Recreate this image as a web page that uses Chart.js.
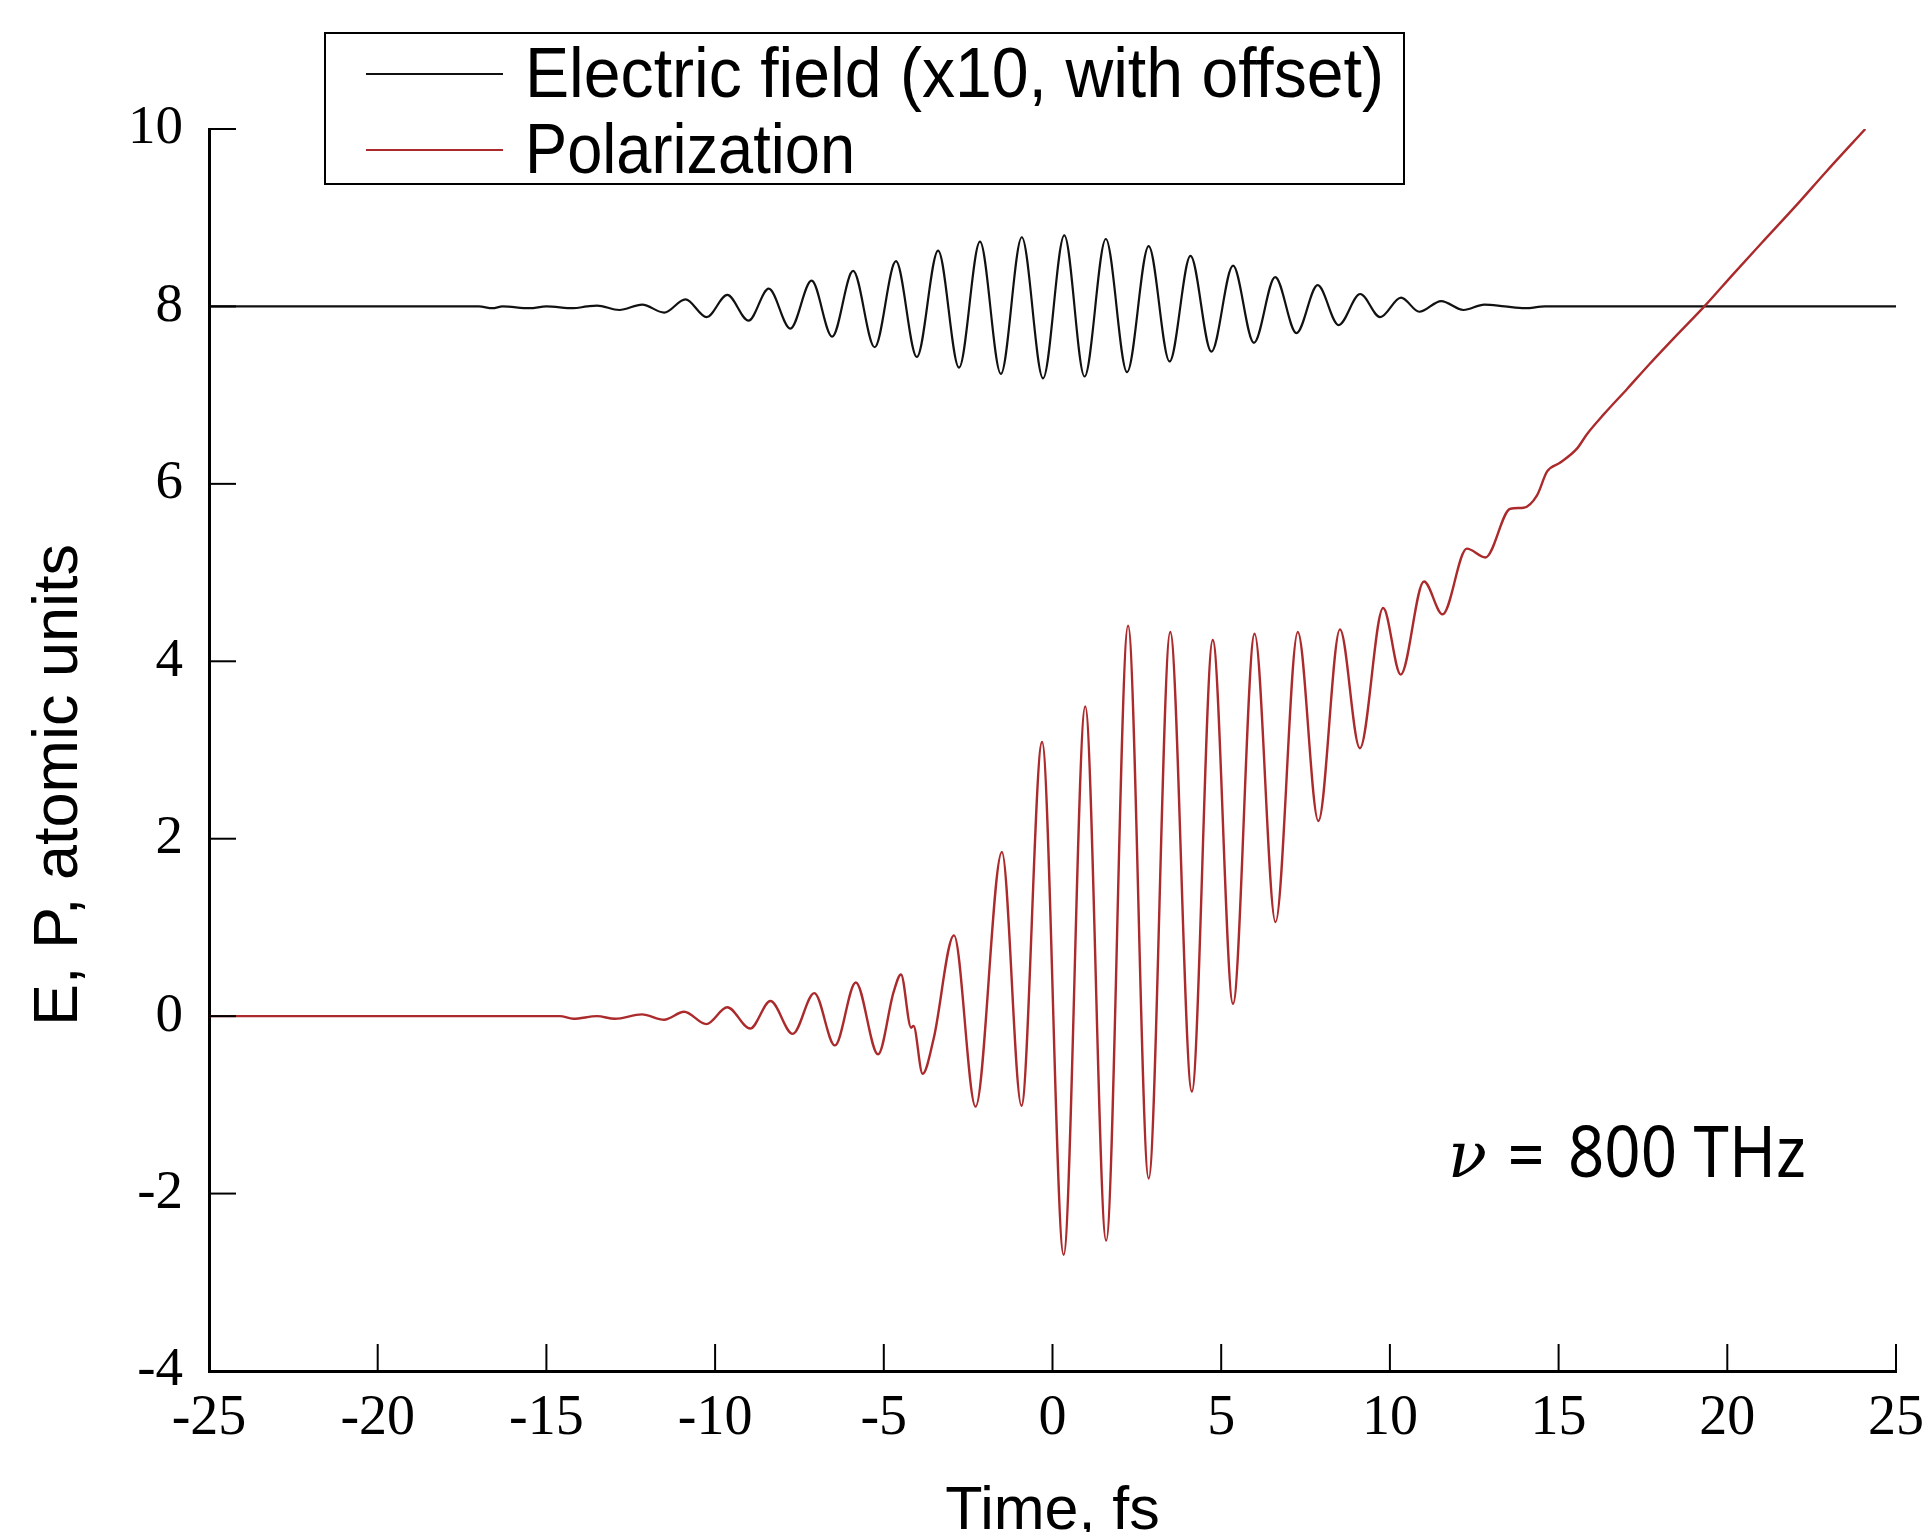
<!DOCTYPE html>
<html>
<head>
<meta charset="utf-8">
<script src="https://cdn.jsdelivr.net/npm/chart.js@4.4.1/dist/chart.umd.min.js"></script>
<style>
  body { margin: 0; background: #fff; }
  canvas { display: block; }
</style>
</head>
<body>
<canvas id="chart" width="1924" height="1532"></canvas>
<script>
// electric field, x10 and shifted up by 8 (peaks and troughs)
const fieldTime = [-25, -17.0, -16.6, -16.3, -15.5, -15.0, -14.2, -13.8, -13.5,
    -12.84, -12.16, -11.51, -10.88, -10.25, -9.64, -9.01, -8.41, -7.77, -7.14,
    -6.53, -5.91, -5.27, -4.64, -4.02, -3.39, -2.77, -2.15, -1.53, -0.91,
    -0.28, 0.35, 0.95, 1.58, 2.21, 2.85, 3.47, 4.09, 4.71, 5.35,
    5.97, 6.60, 7.23, 7.86, 8.48, 9.12, 9.71, 10.33, 10.87, 11.52,
    12.18, 12.80, 13.4, 14.0, 14.6, 25];
const fieldValue = [8.00, 8.00, 7.98, 8.00, 7.98, 8.00, 7.98, 8.00, 8.01,
    7.96, 8.02, 7.93, 8.08, 7.88, 8.13, 7.84, 8.20, 7.75, 8.29,
    7.66, 8.40, 7.54, 8.51, 7.43, 8.63, 7.31, 8.73, 7.24, 8.78,
    7.19, 8.80, 7.21, 8.76, 7.26, 8.68, 7.38, 8.57, 7.49, 8.46,
    7.59, 8.33, 7.70, 8.24, 7.79, 8.14, 7.88, 8.10, 7.94, 8.06,
    7.96, 8.02, 8.00, 7.98, 8.00, 8.00];

// polarization
const polTime = [-25, -14.6, -14.2, -13.5, -12.97, -12.17, -11.51, -10.92, -10.26, -9.64,
    -8.96, -8.36, -7.70, -7.06, -6.45, -5.83, -5.17, -4.71, -4.49, -4.19,
    -4.12, -3.85, -3.52, -2.92, -2.28, -1.50, -0.92, -0.31, 0.33, 0.97,
    1.59, 2.24, 2.85, 3.49, 4.13, 4.75, 5.35, 5.99, 6.61, 7.27,
    7.88, 8.52, 9.11, 9.80, 10.32, 11.01, 11.56, 12.28, 12.83, 13.57,
    13.96, 14.36, 14.66, 15.05, 15.55, 15.84, 16.33, 17.03, 17.67, 18.41,
    19.32, 20.19, 21.03, 22.07, 22.91, 24.09];
const polValue = [0, 0, -0.03, 0, -0.03, 0.02, -0.04, 0.05, -0.09, 0.10,
    -0.14, 0.17, -0.20, 0.26, -0.33, 0.38, -0.43, 0.27, 0.47, -0.13,
    -0.11, -0.65, -0.25, 0.91, -1.02, 1.85, -1.01, 3.09, -2.69, 3.49,
    -2.53, 4.40, -1.83, 4.33, -0.85, 4.24, 0.14, 4.31, 1.06, 4.33,
    2.20, 4.36, 3.02, 4.60, 3.85, 4.90, 4.53, 5.27, 5.17, 5.72,
    5.73, 5.87, 6.14, 6.24, 6.40, 6.56, 6.78, 7.07, 7.34, 7.64,
    8.00, 8.37, 8.72, 9.15, 9.51, 10.0];

const seriesNames = ['Electric field (x10, with offset)', 'Polarization'];
const seriesColors = ['#111111', '#ab2a2c'];
const xRange = [-25, 25];
const xStep = 5;
const yRange = [-4, 10];
const yStep = 2;
const xTitle = 'Time, fs';
const yTitle = 'E, P, atomic units    ';
const noteSymbol = 'ν';
const noteText = '800 THz';

function toPoints(xs, ys) {
    return xs.map((x, i) => ({ x: x, y: ys[i] }));
}

// draw text squeezed/stretched to a given width
function fitText(ctx, text, x, y, width) {
    const w = ctx.measureText(text).width;
    ctx.save();
    ctx.translate(x, y);
    ctx.scale(width / w, 1);
    ctx.fillText(text, 0, 0);
    ctx.restore();
}

// ticks point inward, plus the boxed legend and the frequency note
const decorations = {
    id: 'decorations',
    afterDraw(chart) {
        const ctx = chart.ctx;
        const xs = chart.scales.x;
        const ys = chart.scales.y;
        const area = chart.chartArea;
        ctx.save();
        ctx.strokeStyle = '#000';
        ctx.lineWidth = 2;
        for (let t of xs.ticks) {
            const px = xs.getPixelForValue(t.value);
            ctx.beginPath();
            ctx.moveTo(px, area.bottom);
            ctx.lineTo(px, area.bottom - 27);
            ctx.stroke();
        }
        for (let t of ys.ticks) {
            const py = ys.getPixelForValue(t.value);
            ctx.beginPath();
            ctx.moveTo(area.left, py);
            ctx.lineTo(area.left + 27, py);
            ctx.stroke();
        }

        // legend
        ctx.fillStyle = '#fff';
        ctx.fillRect(325, 33, 1079, 151);
        ctx.strokeStyle = '#000';
        ctx.lineWidth = 2;
        ctx.strokeRect(325, 33, 1079, 151);
        const rows = [74, 150];
        const baselines = [97, 173];
        const widths = [859, 330];
        for (let i = 0; i < seriesNames.length; i++) {
            ctx.strokeStyle = seriesColors[i];
            ctx.lineWidth = 2;
            ctx.beginPath();
            ctx.moveTo(366, rows[i]);
            ctx.lineTo(503, rows[i]);
            ctx.stroke();
            ctx.fillStyle = '#000';
            ctx.font = '71px "Liberation Sans"';
            ctx.textBaseline = 'alphabetic';
            ctx.textAlign = 'left';
            fitText(ctx, seriesNames[i], 525, baselines[i], widths[i]);
        }

        // frequency note
        const nx = xs.getPixelForValue(11.72);
        const ny = ys.getPixelForValue(-1.81);
        ctx.fillStyle = '#000';
        ctx.textBaseline = 'alphabetic';
        ctx.textAlign = 'left';
        ctx.font = 'italic 64px "DejaVu Serif"';
        ctx.fillText(noteSymbol, nx, ny);
        ctx.font = '64px "DejaVu Serif"';
        fitText(ctx, '=', nx + 58, ny - 2, 40);
        ctx.font = '72px "Noto Sans"';
        fitText(ctx, noteText, nx + 120, ny, 238);
        ctx.restore();
    }
};

Chart.defaults.font.family = '"Liberation Serif"';
Chart.defaults.color = '#000';

new Chart(document.getElementById('chart'), {
    type: 'line',
    data: {
        datasets: [
            {
                label: seriesNames[0],
                data: toPoints(fieldTime, fieldValue),
                borderColor: seriesColors[0],
                borderWidth: 2.2,
                pointRadius: 0,
                cubicInterpolationMode: 'monotone',
                fill: false,
                order: 1
            },
            {
                label: seriesNames[1],
                data: toPoints(polTime, polValue),
                borderColor: seriesColors[1],
                borderWidth: 2.4,
                pointRadius: 0,
                cubicInterpolationMode: 'monotone',
                fill: false,
                order: 0
            }
        ]
    },
    options: {
        responsive: false,
        animation: false,
        devicePixelRatio: 1,
        layout: { padding: { left: 0, top: 129, right: 28, bottom: 0 } },
        plugins: {
            legend: { display: false },
            tooltip: { enabled: false }
        },
        scales: {
            x: {
                type: 'linear',
                min: xRange[0],
                max: xRange[1],
                afterFit: function (scale) {
                    scale.height = 161;
                    scale.paddingLeft = 0;
                    scale.paddingRight = 0;
                },
                ticks: {
                    stepSize: xStep,
                    maxRotation: 0,
                    autoSkip: false,
                    padding: 15,
                    font: { size: 56 }
                },
                grid: { display: false, drawTicks: false },
                border: { display: true, color: '#000', width: 3 },
                title: {
                    display: true,
                    text: xTitle,
                    padding: 0,
                    font: { family: '"Liberation Sans"', size: 61, lineHeight: 0.66 }
                }
            },
            y: {
                min: yRange[0],
                max: yRange[1],
                afterFit: function (scale) { scale.width = 209; },
                ticks: {
                    stepSize: yStep,
                    padding: 26,
                    font: { size: 55 }
                },
                grid: { display: false, drawTicks: false },
                border: { display: true, color: '#000', width: 3 },
                title: {
                    display: true,
                    text: yTitle,
                    padding: { top: 28, bottom: 0 },
                    font: { family: '"Liberation Sans"', size: 63, lineHeight: 1 }
                }
            }
        }
    },
    plugins: [decorations]
});
</script>
</body>
</html>
